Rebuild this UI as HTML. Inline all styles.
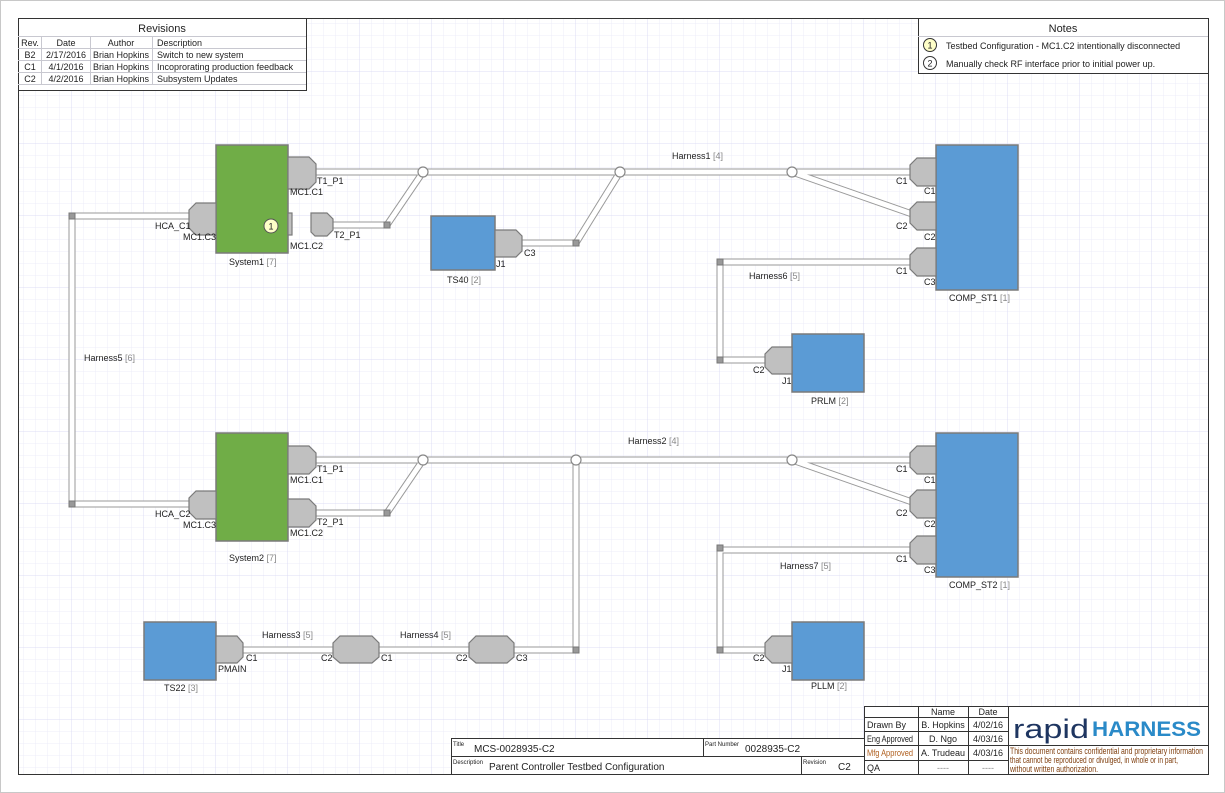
<!DOCTYPE html>
<html><head><meta charset="utf-8"><style>
html,body{margin:0;padding:0;background:#fff}
svg{display:block}
text{font-family:"Liberation Sans",sans-serif;font-size:9px;fill:#222}
.g{fill:#888}
</style></head><body>
<svg width="1225" height="793" viewBox="0 0 1225 793" xmlns="http://www.w3.org/2000/svg">
<defs>
<pattern id="mi" width="12" height="12" patternUnits="userSpaceOnUse"><path d="M12 0V12M0 12H12" stroke="#ececf8" stroke-width="1" fill="none"/></pattern>
<pattern id="ma" width="72" height="72" patternUnits="userSpaceOnUse"><rect width="72" height="72" fill="url(#mi)"/><path d="M72 0V72M0 72H72" stroke="#dcdcf4" stroke-width="1" fill="none"/></pattern>
</defs>
<rect x="0.5" y="0.5" width="1224" height="792" fill="#fff" stroke="#c8c8c8"/>
<rect x="18" y="18" width="1190" height="756" fill="url(#ma)"/>
<rect x="18.5" y="18.5" width="1190" height="756" fill="none" stroke="#333"/>

<g fill="none" stroke-linejoin="miter">
<g stroke="#9a9a9a" stroke-width="7">
<path d="M316 172H912M423 172L387 225H333M620 172L576 243H522M792 172L912 214M912 262H720V360H765"/>
<path d="M189 216H72V504H189"/>
<path d="M316 460H912M423 460L387 513H316M576 460V650H514M792 460L912 502M912 550H720V650H765"/>
<path d="M243 650H333M379 650H469"/>
</g>
<g stroke="#fff" stroke-width="5">
<path d="M316 172H912M423 172L387 225H333M620 172L576 243H522M792 172L912 214M912 262H720V360H765"/>
<path d="M189 216H72V504H189"/>
<path d="M316 460H912M423 460L387 513H316M576 460V650H514M792 460L912 502M912 550H720V650H765"/>
<path d="M243 650H333M379 650H469"/>
</g>
</g>
<g fill="#fff" stroke="#888" stroke-width="1.2">
<circle cx="423" cy="172" r="5"/><circle cx="620" cy="172" r="5"/><circle cx="792" cy="172" r="5"/>
<circle cx="423" cy="460" r="5"/><circle cx="576" cy="460" r="5"/><circle cx="792" cy="460" r="5"/>
</g>
<g fill="#999" stroke="#777">
<rect x="384" y="222" width="6" height="6"/><rect x="573" y="240" width="6" height="6"/>
<rect x="69" y="213" width="6" height="6"/><rect x="69" y="501" width="6" height="6"/>
<rect x="717" y="259" width="6" height="6"/><rect x="717" y="357" width="6" height="6"/>
<rect x="384" y="510" width="6" height="6"/><rect x="573" y="647" width="6" height="6"/>
<rect x="717" y="545" width="6" height="6"/><rect x="717" y="647" width="6" height="6"/>
</g>

<g stroke="#7a7a7a" stroke-width="1.5">
<rect x="216" y="145" width="72" height="108" fill="#70ad47"/>
<rect x="216" y="433" width="72" height="108" fill="#70ad47"/>
<g fill="#5b9bd5">
<rect x="431" y="216" width="64" height="54"/>
<rect x="936" y="145" width="82" height="145"/>
<rect x="792" y="334" width="72" height="58"/>
<rect x="936" y="433" width="82" height="144"/>
<rect x="792" y="622" width="72" height="58"/>
<rect x="144" y="622" width="72" height="58"/>
</g>
</g>

<g fill="#c0c0c0" stroke="#7a7a7a" stroke-width="1.2">
<polygon points="288,157 309,157 316,164 316,182 309,189 288,189"/>
<polygon points="311,213 327,213 333,219 333,230 327,236 315,236 311,232"/>
<polygon points="495,230 516,230 522,236 522,251 516,257 495,257"/>
<polygon points="288,446 309,446 316,453 316,467 309,474 288,474"/>
<polygon points="288,499 309,499 316,506 316,520 309,527 288,527"/>
<polygon points="216,636 237,636 243,643 243,657 237,663 216,663"/>
<rect x="288" y="213" width="4" height="22"/>
<polygon points="216,203 196,203 189,210 189,228 196,235 216,235"/>
<polygon points="216,491 196,491 189,498 189,512 196,519 216,519"/>
<polygon points="936,158 917,158 910,165 910,179 917,186 936,186"/>
<polygon points="936,202 917,202 910,209 910,223 917,230 936,230"/>
<polygon points="936,248 917,248 910,255 910,269 917,276 936,276"/>
<polygon points="936,446 917,446 910,453 910,467 917,474 936,474"/>
<polygon points="936,490 917,490 910,497 910,511 917,518 936,518"/>
<polygon points="936,536 917,536 910,543 910,557 917,564 936,564"/>
<polygon points="792,347 772,347 765,354 765,367 772,374 792,374"/>
<polygon points="792,636 772,636 765,643 765,656 772,663 792,663"/>
<polygon points="340,636 372,636 379,643 379,657 372,663 340,663 333,657 333,643"/>
<polygon points="476,636 507,636 514,643 514,657 507,663 476,663 469,657 469,643"/>
</g>
<circle cx="271" cy="226" r="7" fill="#ffffc8" stroke="#555"/>
<text x="271" y="229.5" text-anchor="middle">1</text>

<text x="317" y="184">T1_P1</text><text x="290" y="195">MC1.C1</text>
<text x="334" y="238">T2_P1</text><text x="290" y="249">MC1.C2</text>
<text x="155" y="229">HCA_C1</text><text x="183" y="240">MC1.C3</text>
<text x="229" y="265">System1 <tspan class="g">[7]</tspan></text>
<text x="672" y="159">Harness1 <tspan class="g">[4]</tspan></text>
<text x="524" y="256">C3</text><text x="496" y="267">J1</text>
<text x="447" y="283">TS40 <tspan class="g">[2]</tspan></text>
<text x="896" y="184">C1</text><text x="924" y="194">C1</text>
<text x="896" y="229">C2</text><text x="924" y="240">C2</text>
<text x="896" y="274">C1</text><text x="924" y="285">C3</text>
<text x="949" y="301">COMP_ST1 <tspan class="g">[1]</tspan></text>
<text x="749" y="279">Harness6 <tspan class="g">[5]</tspan></text>
<text x="753" y="373">C2</text><text x="782" y="384">J1</text>
<text x="811" y="404">PRLM <tspan class="g">[2]</tspan></text>
<text x="84" y="361">Harness5 <tspan class="g">[6]</tspan></text>
<text x="317" y="472">T1_P1</text><text x="290" y="483">MC1.C1</text>
<text x="317" y="525">T2_P1</text><text x="290" y="536">MC1.C2</text>
<text x="155" y="517">HCA_C2</text><text x="183" y="528">MC1.C3</text>
<text x="229" y="561">System2 <tspan class="g">[7]</tspan></text>
<text x="628" y="444">Harness2 <tspan class="g">[4]</tspan></text>
<text x="896" y="472">C1</text><text x="924" y="483">C1</text>
<text x="896" y="516">C2</text><text x="924" y="527">C2</text>
<text x="896" y="562">C1</text><text x="924" y="573">C3</text>
<text x="949" y="588">COMP_ST2 <tspan class="g">[1]</tspan></text>
<text x="780" y="569">Harness7 <tspan class="g">[5]</tspan></text>
<text x="753" y="661">C2</text><text x="782" y="672">J1</text>
<text x="811" y="689">PLLM <tspan class="g">[2]</tspan></text>
<text x="164" y="691">TS22 <tspan class="g">[3]</tspan></text>
<text x="246" y="661">C1</text><text x="218" y="672">PMAIN</text>
<text x="262" y="638">Harness3 <tspan class="g">[5]</tspan></text>
<text x="400" y="638">Harness4 <tspan class="g">[5]</tspan></text>
<text x="321" y="661">C2</text><text x="381" y="661">C1</text>
<text x="456" y="661">C2</text><text x="516" y="661">C3</text>

<g>
<rect x="18.5" y="18.5" width="288" height="72" fill="#fff" stroke="#333"/>
<path d="M18 36.5H306M18 48.5H306M18 60.5H306M18 72.5H306M18 84.5H306M41.5 36V84M90.5 36V84M152.5 36V84" stroke="#c8c8d0" fill="none"/>
<text x="162" y="32" text-anchor="middle" style="font-size:11px">Revisions</text>
<g style="font-size:9px">
<text x="30" y="46" text-anchor="middle">Rev.</text><text x="66" y="46" text-anchor="middle">Date</text><text x="121" y="46" text-anchor="middle">Author</text><text x="157" y="46">Description</text>
<text x="30" y="58" text-anchor="middle">B2</text><text x="66" y="58" text-anchor="middle">2/17/2016</text><text x="121" y="58" text-anchor="middle">Brian Hopkins</text><text x="157" y="58">Switch to new system</text>
<text x="30" y="70" text-anchor="middle">C1</text><text x="66" y="70" text-anchor="middle">4/1/2016</text><text x="121" y="70" text-anchor="middle">Brian Hopkins</text><text x="157" y="70">Incoprorating production feedback</text>
<text x="30" y="82" text-anchor="middle">C2</text><text x="66" y="82" text-anchor="middle">4/2/2016</text><text x="121" y="82" text-anchor="middle">Brian Hopkins</text><text x="157" y="82">Subsystem Updates</text>
</g>
</g>

<rect x="918.5" y="18.5" width="290" height="55" fill="#fff" stroke="#333"/>
<path d="M918 36.5H1208" stroke="#c8c8d0"/>
<text x="1063" y="32" text-anchor="middle" style="font-size:11px">Notes</text>
<circle cx="930" cy="45" r="6.5" fill="#ffffc8" stroke="#333"/><text x="930" y="48.5" text-anchor="middle">1</text>
<text x="946" y="49">Testbed Configuration - MC1.C2 intentionally disconnected</text>
<circle cx="930" cy="63" r="6.5" fill="#fff" stroke="#333"/><text x="930" y="66.5" text-anchor="middle">2</text>
<text x="946" y="67">Manually check RF interface prior to initial power up.</text>

<rect x="451.5" y="738.5" width="413" height="36" fill="#fff" stroke="#333"/>
<path d="M451 756.5H864M703.5 738V756M801.5 756V774" stroke="#333" fill="none"/>
<text x="453" y="746" style="font-size:6px">Title</text>
<text x="474" y="752" style="font-size:10px">MCS-0028935-C2</text>
<text x="705" y="746" style="font-size:6px">Part Number</text>
<text x="745" y="752" style="font-size:10px">0028935-C2</text>
<text x="453" y="764" style="font-size:6px">Description</text>
<text x="489" y="770" style="font-size:10px">Parent Controller Testbed Configuration</text>
<text x="803" y="764" style="font-size:6px">Revision</text>
<text x="838" y="770" style="font-size:10px">C2</text>

<rect x="864.5" y="706.5" width="344" height="68" fill="#fff" stroke="#333"/>
<path d="M864 717.5H1008M864 731.5H1008M864 745.5H1208M864 760.5H1008M918.5 706V774M968.5 706V774M1008.5 706V774" stroke="#333" fill="none"/>
<g style="font-size:6.5px">
<text x="943" y="715" text-anchor="middle">Name</text><text x="988" y="715" text-anchor="middle">Date</text>
<text x="867" y="728">Drawn By</text><text x="943" y="728" text-anchor="middle">B. Hopkins</text><text x="988" y="728" text-anchor="middle">4/02/16</text>
<text x="867" y="742" textLength="46" lengthAdjust="spacingAndGlyphs">Eng Approved</text><text x="943" y="742" text-anchor="middle">D. Ngo</text><text x="988" y="742" text-anchor="middle">4/03/16</text>
<text x="867" y="756" style="fill:#b06020" textLength="46" lengthAdjust="spacingAndGlyphs">Mfg Approved</text><text x="943" y="756" text-anchor="middle">A. Trudeau</text><text x="988" y="756" text-anchor="middle">4/03/16</text>
<text x="867" y="771">QA</text><text x="943" y="771" text-anchor="middle" class="g">----</text><text x="988" y="771" text-anchor="middle" class="g">----</text>
<text x="1010" y="754" style="fill:#804010" textLength="193" lengthAdjust="spacingAndGlyphs">This document contains confidential and proprietary information</text>
<text x="1010" y="763" style="fill:#804010" textLength="168" lengthAdjust="spacingAndGlyphs">that cannot be reproduced or divulged, in whole or in part,</text>
<text x="1010" y="772" style="fill:#804010" textLength="88" lengthAdjust="spacingAndGlyphs">without written authorization.</text>
</g>
<text x="1013" y="738" style="font-size:27px;fill:#1e3560" textLength="76" lengthAdjust="spacingAndGlyphs">rapid</text>
<text x="1092" y="736" style="font-size:21px;font-weight:bold;fill:#2a8ac8" textLength="109" lengthAdjust="spacingAndGlyphs">HARNESS</text>
</svg>
</body></html>
